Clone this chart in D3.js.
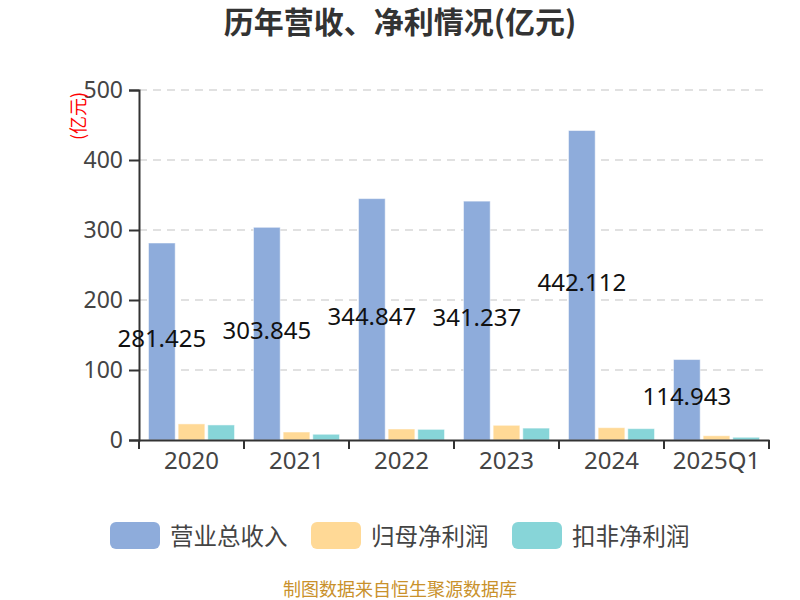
<!DOCTYPE html>
<html><head><meta charset="utf-8">
<script src="https://cdn.jsdelivr.net/npm/d3@7"></script>
<style>body{margin:0;background:#fff}svg{display:block}text{font-family:"Noto Sans CJK SC","Noto Sans",sans-serif}</style>
</head><body><svg id="c" width="800" height="600"></svg>
<script>
const categories = ["2020","2021","2022","2023","2024","2025Q1"];
const seriesNames = ["营业总收入","归母净利润","扣非净利润"];
const revenue = [281.425,303.845,344.847,341.237,442.112,114.943];
const netProfit = [23,11.4,15.7,21,17.6,6.1];
const deductedProfit = [21.5,8.2,15.2,17,16.2,3.9];
const yTicks = [0,100,200,300,400,500];
const colors = ["#8eacdb","#ffd996","#87d5d8"];

const svg = d3.select("#c");
const m = {l:139, r:769, t:90, b:440};
const x = d3.scaleBand().domain(categories).range([m.l,m.r]);
const x1 = d3.scaleBand().domain(seriesNames).range([0,x.bandwidth()]).paddingInner(0.1).paddingOuter(0.32);
const y = d3.scaleLinear().domain([0,500]).range([m.b,m.t]);

// grid
svg.append("g").selectAll("line").data(yTicks.filter(d=>d>0)).join("line")
  .attr("x1",m.l).attr("x2",m.r).attr("y1",d=>y(d)).attr("y2",d=>y(d))
  .attr("stroke","#c4c4c4").attr("stroke-dasharray","8,6").attr("stroke-width",1.2);

const data = [revenue,netProfit,deductedProfit];
categories.forEach((c,i)=>{
  const g = svg.append("g").attr("transform",`translate(${x(c)},0)`);
  seriesNames.forEach((s,j)=>{
    g.append("rect").attr("x",x1(s)).attr("width",x1.bandwidth())
     .attr("y",y(data[j][i])).attr("height",y(0)-y(data[j][i]))
     .attr("fill",colors[j]).attr("stroke","#fff").attr("stroke-opacity",0.5).attr("stroke-width",1);
  });
});

// y axis
const ya = svg.append("g").attr("transform",`translate(${m.l},0)`)
  .call(d3.axisLeft(y).tickValues(yTicks).tickSize(10).tickPadding(6));
ya.select(".domain").attr("stroke","#333").attr("stroke-width",2);
ya.selectAll(".tick line").attr("stroke","#333").attr("stroke-width",2);
ya.selectAll("text").attr("font-size",23).attr("fill","#444").style("font-family","'Noto Sans',sans-serif");

// x axis
const xa = svg.append("g").attr("transform",`translate(0,${m.b})`)
  .call(d3.axisBottom(x).tickSize(0).tickPadding(12));
xa.select(".domain").attr("stroke","#333").attr("stroke-width",2);
xa.selectAll("text").attr("font-size",24).attr("fill","#444").style("font-family","'Noto Sans',sans-serif");
xa.selectAll(".bt").data(x.domain().map(d=>x(d)).concat([m.r])).join("line")
  .attr("x1",d=>d).attr("x2",d=>d).attr("y1",0).attr("y2",9).attr("stroke","#333").attr("stroke-width",2);

// labels
svg.append("g").selectAll("text").data(categories).join("text")
  .attr("x",d=>x(d)+x1(seriesNames[0])+x1.bandwidth()/2)
  .attr("y",(d,i)=>(y(revenue[i])+y(0))/2 - 4)
  .attr("text-anchor","middle").attr("dominant-baseline","central")
  .style("font-family","'Noto Sans',sans-serif")
  .attr("font-size",24).attr("fill","#111").text((d,i)=>revenue[i].toFixed(3));

// unit
svg.append("text").attr("transform","translate(77,116) rotate(-90)")
  .attr("text-anchor","middle").attr("dominant-baseline","central")
  .attr("font-size",18).attr("fill","#f00").text("(亿元)");

// title
svg.append("text").attr("x",400).attr("y",33).attr("text-anchor","middle")
  .attr("font-size",30).attr("font-weight","bold").attr("fill","#333").text("历年营收、净利情况(亿元)");

// legend
const legX = [110,311,512];
seriesNames.forEach((s,j)=>{
  svg.append("rect").attr("x",legX[j]).attr("y",522).attr("width",50).attr("height",27).attr("rx",6)
    .attr("fill",colors[j]);
  svg.append("text").attr("x",legX[j]+60).attr("y",535).attr("dominant-baseline","central")
    .attr("font-size",23.5).attr("fill","#444").text(s);
});

// footer
svg.append("text").attr("x",400).attr("y",596).attr("text-anchor","middle")
  .attr("font-size",18).attr("fill","#c9912b").text("制图数据来自恒生聚源数据库");
</script></body></html>
